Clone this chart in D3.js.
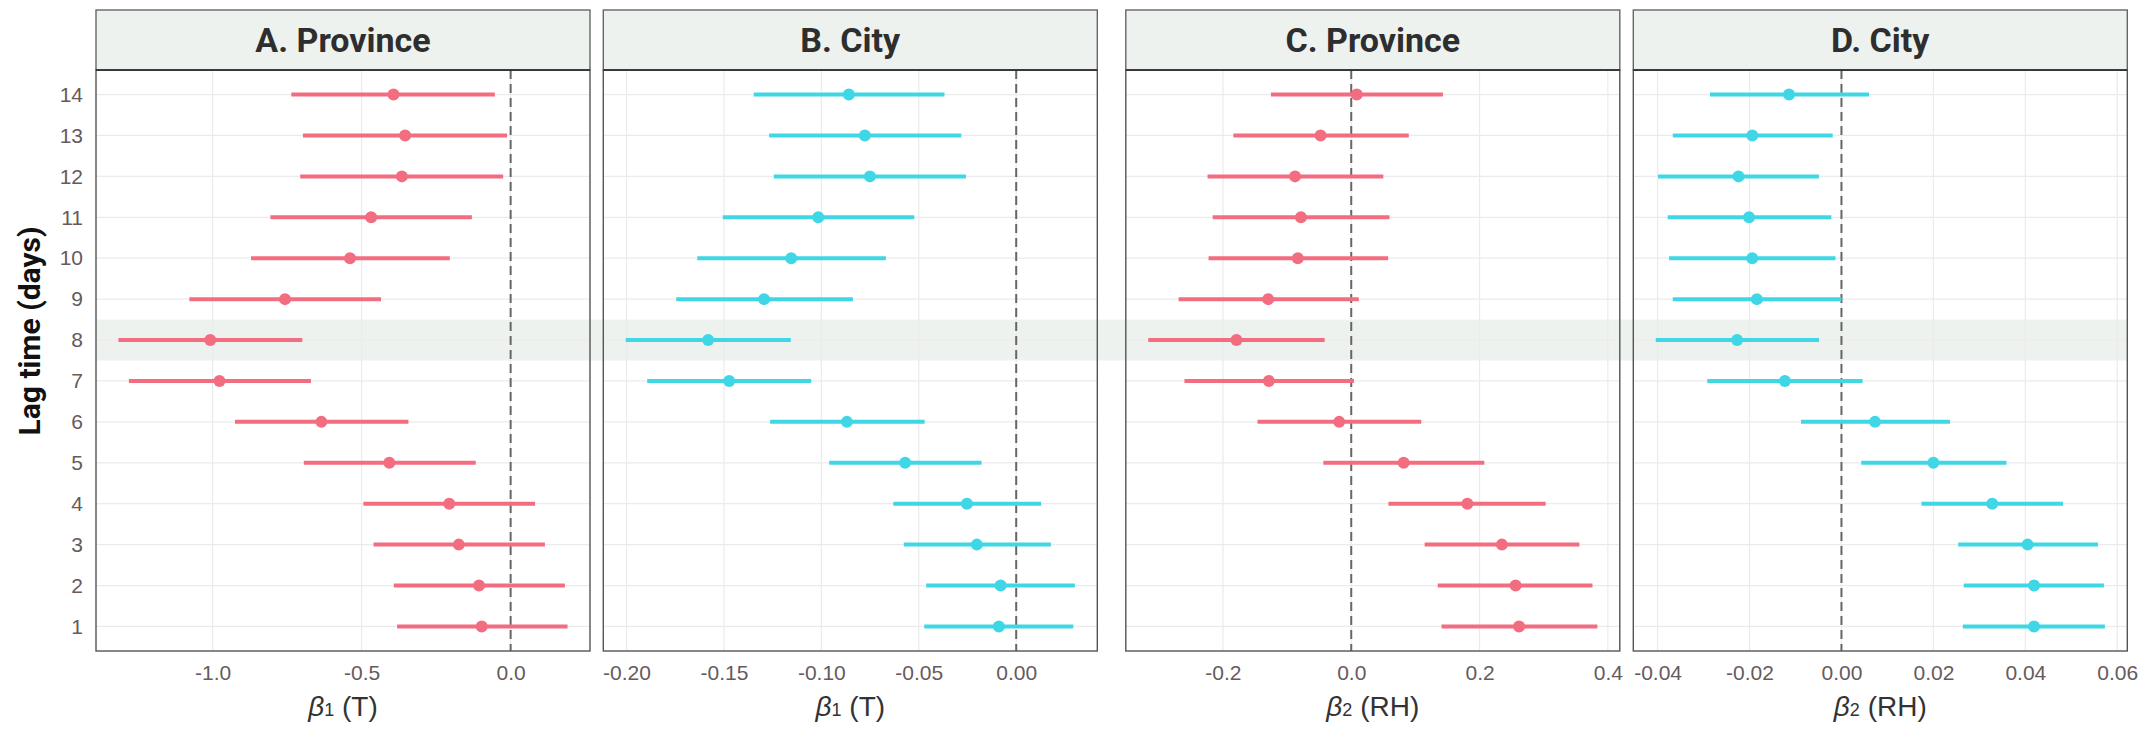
<!DOCTYPE html>
<html lang="en">
<head>
	<meta charset="UTF-8">
	<title>Lag effects</title>
	<style>
		body { margin: 0; background: #fff; }
	</style>
</head>
<body>
	<div id="chart"></div>

	<script src="https://cdnjs.cloudflare.com/ajax/libs/d3/7.8.5/d3.min.js"></script>
	<script type="text/javascript">

	// lag days 1..14
	var lags = [1, 2, 3, 4, 5, 6, 7, 8, 9, 10, 11, 12, 13, 14];
	var highlightLag = 8;

	var panelTitles = ['A. Province', 'B. City', 'C. Province', 'D. City'];
	var axisVar = ['1', '1', '2', '2'];
	var axisUnit = ['(T)', '(T)', '(RH)', '(RH)'];

	// A. Province, beta1 (T)
	var provT_est = [-0.097, -0.106, -0.174, -0.206, -0.407, -0.635, -0.977, -1.008, -0.757, -0.539, -0.468, -0.365, -0.354, -0.393];
	var provT_lo  = [-0.381, -0.392, -0.460, -0.494, -0.694, -0.925, -1.281, -1.316, -1.078, -0.871, -0.806, -0.706, -0.697, -0.736];
	var provT_hi  = [0.191, 0.182, 0.115, 0.082, -0.117, -0.343, -0.670, -0.699, -0.435, -0.204, -0.130, -0.025, -0.012, -0.053];

	// B. City, beta1 (T)
	var cityT_est = [-0.0089, -0.0080, -0.0202, -0.0253, -0.0570, -0.0869, -0.1473, -0.1581, -0.1294, -0.1155, -0.1016, -0.0751, -0.0777, -0.0859];
	var cityT_lo  = [-0.0472, -0.0462, -0.0577, -0.0631, -0.0960, -0.1263, -0.1894, -0.2004, -0.1745, -0.1637, -0.1506, -0.1244, -0.1268, -0.1347];
	var cityT_hi  = [0.0293, 0.0301, 0.0178, 0.0128, -0.0178, -0.0470, -0.1052, -0.1157, -0.0838, -0.0669, -0.0523, -0.0258, -0.0282, -0.0368];

	// C. Province, beta2 (RH)
	var provRH_est = [0.2616, 0.2562, 0.2348, 0.1810, 0.0817, -0.0188, -0.1284, -0.1789, -0.1295, -0.0833, -0.0784, -0.0876, -0.0478, 0.0086];
	var provRH_lo  = [0.1407, 0.1348, 0.1144, 0.0580, -0.0435, -0.1461, -0.2600, -0.3164, -0.2691, -0.2224, -0.2160, -0.2240, -0.1837, -0.1252];
	var provRH_hi  = [0.3836, 0.3760, 0.3556, 0.3030, 0.2074, 0.1091, 0.0043, -0.0414, 0.0118, 0.0575, 0.0596, 0.0500, 0.0897, 0.1429];

	// D. City, beta2 (RH)
	var cityRH_est = [0.0419, 0.0419, 0.0405, 0.0328, 0.0200, 0.0073, -0.0123, -0.0227, -0.0184, -0.0194, -0.0201, -0.0224, -0.0194, -0.0114];
	var cityRH_lo  = [0.0264, 0.0266, 0.0254, 0.0174, 0.0043, -0.0088, -0.0292, -0.0404, -0.0367, -0.0375, -0.0378, -0.0399, -0.0367, -0.0286];
	var cityRH_hi  = [0.0573, 0.0571, 0.0558, 0.0482, 0.0359, 0.0236, 0.0046, -0.0049, 0.0000, -0.0013, -0.0022, -0.0049, -0.0019, 0.0060];

	// x tick values per panel
	var ticksA = [-1.0, -0.5, 0.0];
	var ticksB = [-0.20, -0.15, -0.10, -0.05, 0.00];
	var ticksC = [-0.2, 0.0, 0.2, 0.4];
	var ticksD = [-0.04, -0.02, 0.00, 0.02, 0.04, 0.06];

	var pink = '#F36D80';
	var cyan = '#3FD7E6';

	var panels = [
		{ est: provT_est, lo: provT_lo, hi: provT_hi, ticks: ticksA, fmt: '.1f', color: pink },
		{ est: cityT_est, lo: cityT_lo, hi: cityT_hi, ticks: ticksB, fmt: '.2f', color: cyan },
		{ est: provRH_est, lo: provRH_lo, hi: provRH_hi, ticks: ticksC, fmt: '.1f', color: pink },
		{ est: cityRH_est, lo: cityRH_lo, hi: cityRH_hi, ticks: ticksD, fmt: '.2f', color: cyan }
	];

	var width = 2139;
	var height = 732;

	// panel placement
	var panelX = [96, 603.3, 1125.8, 1633.3];
	var panelW = 494;
	var stripTop = 10;
	var plotTop = 70;
	var plotBottom = 651;
	var boldFont = 'Roboto, "Liberation Sans", sans-serif';
	var tickFont = '"Liberation Sans", Arial, sans-serif';
	var tickColor = '#665A5C';

	var svg = d3.select('#chart')
		.append('svg')
		.attr('width', width)
		.attr('height', height);

	var y = d3.scaleLinear()
		.domain([0.4, 14.6])
		.range([plotBottom, plotTop]);

	// highlight band for lag 8, runs across all panels
	svg.append('rect')
		.attr('x', panelX[0])
		.attr('y', y(highlightLag + 0.5))
		.attr('width', panelX[3] + panelW - panelX[0])
		.attr('height', y(highlightLag - 0.5) - y(highlightLag + 0.5))
		.attr('fill', '#EDF2EF');

	panels.forEach(function(p, i) {
		var x0 = panelX[i];
		var lo = d3.min(p.lo), hi = d3.max(p.hi);
		var pad = (hi - lo) * 0.05;
		var x = d3.scaleLinear()
			.domain([lo - pad, hi + pad])
			.range([x0, x0 + panelW]);

		var rows = lags.map(function(l, k) {
			return { lag: l, est: p.est[k], lo: p.lo[k], hi: p.hi[k] };
		});

		var g = svg.append('g');

		// grid
		g.selectAll('.hgrid')
			.data(lags)
			.enter()
			.append('line')
			.attr('x1', x0).attr('x2', x0 + panelW)
			.attr('y1', function(d) { return y(d); })
			.attr('y2', function(d) { return y(d); })
			.attr('stroke', '#EBEBEB')
			.attr('stroke-width', 1.2);

		g.selectAll('.vgrid')
			.data(p.ticks)
			.enter()
			.append('line')
			.attr('x1', function(d) { return x(d); })
			.attr('x2', function(d) { return x(d); })
			.attr('y1', plotTop).attr('y2', plotBottom)
			.attr('stroke', '#EBEBEB')
			.attr('stroke-width', 1.2);

		// zero reference
		g.append('line')
			.attr('x1', x(0)).attr('x2', x(0))
			.attr('y1', plotTop).attr('y2', plotBottom)
			.attr('stroke', '#666')
			.attr('stroke-width', 2)
			.attr('stroke-dasharray', '9,5');

		// error bars
		g.selectAll('.bar')
			.data(rows)
			.enter()
			.append('line')
			.attr('x1', function(d) { return x(d.lo); })
			.attr('x2', function(d) { return x(d.hi); })
			.attr('y1', function(d) { return y(d.lag); })
			.attr('y2', function(d) { return y(d.lag); })
			.attr('stroke', p.color)
			.attr('stroke-width', 4);

		g.selectAll('circle')
			.data(rows)
			.enter()
			.append('circle')
			.attr('cx', function(d) { return x(d.est); })
			.attr('cy', function(d) { return y(d.lag); })
			.attr('r', 6)
			.attr('fill', p.color);

		// panel border
		g.append('rect')
			.attr('x', x0).attr('y', plotTop)
			.attr('width', panelW).attr('height', plotBottom - plotTop)
			.attr('fill', 'none')
			.attr('stroke', '#555')
			.attr('stroke-width', 1.4);

		// strip
		g.append('rect')
			.attr('x', x0).attr('y', stripTop)
			.attr('width', panelW).attr('height', plotTop - stripTop)
			.attr('fill', '#EDF2EF')
			.attr('stroke', '#666')
			.attr('stroke-width', 1.4);
		g.append('line')
			.attr('x1', x0).attr('x2', x0 + panelW)
			.attr('y1', plotTop).attr('y2', plotTop)
			.attr('stroke', '#222')
			.attr('stroke-width', 1.4);
		g.append('text')
			.attr('x', x0 + panelW / 2)
			.attr('y', 52)
			.attr('text-anchor', 'middle')
			.style('font-family', boldFont)
			.style('font-size', '34px')
			.style('font-weight', 'bold')
			.attr('fill', '#2E2E2E')
			.text(panelTitles[i]);

		// x axis labels
		var f = d3.format(p.fmt);
		var xAxis = d3.axisBottom(x)
			.tickValues(p.ticks)
			.tickSize(0)
			.tickPadding(0)
			.tickFormat(function(d) { return f(d).replace('\u2212', '-'); });
		var ax = svg.append('g')
			.attr('transform', 'translate(0,' + plotBottom + ')')
			.call(xAxis);
		ax.select('.domain').remove();
		ax.selectAll('text')
			.attr('dy', 0)
			.attr('y', 28.5)
			.style('font-size', '21px')
			.style('font-family', tickFont)
			.attr('fill', tickColor);

		// x axis title
		var t = svg.append('text')
			.attr('x', x0 + panelW / 2)
			.attr('y', 716)
			.attr('text-anchor', 'middle')
			.style('font-family', tickFont)
			.style('font-size', '28px')
			.attr('fill', '#333');
		t.append('tspan').style('font-style', 'italic').text('\u03B2');
		t.append('tspan').style('font-size', '18px').text(axisVar[i]);
		t.append('tspan').text(' ' + axisUnit[i]);
	});

	// y axis labels (first panel only)
	var yAxis = d3.axisLeft(y)
		.tickValues(lags)
		.tickSize(0)
		.tickPadding(13);
	var ay = svg.append('g')
		.attr('transform', 'translate(' + panelX[0] + ',0)')
		.call(yAxis);
	ay.select('.domain').remove();
	ay.selectAll('text')
		.style('font-size', '21px')
		.style('font-family', tickFont)
		.attr('fill', tickColor);

	svg.append('text')
		.attr('transform', 'translate(39.5,331) rotate(-90)')
		.attr('text-anchor', 'middle')
		.style('font-family', boldFont)
		.style('font-size', '30px')
		.style('font-weight', 'bold')
		.attr('fill', '#111')
		.text('Lag time (days)');

	</script>
</body>
</html>
